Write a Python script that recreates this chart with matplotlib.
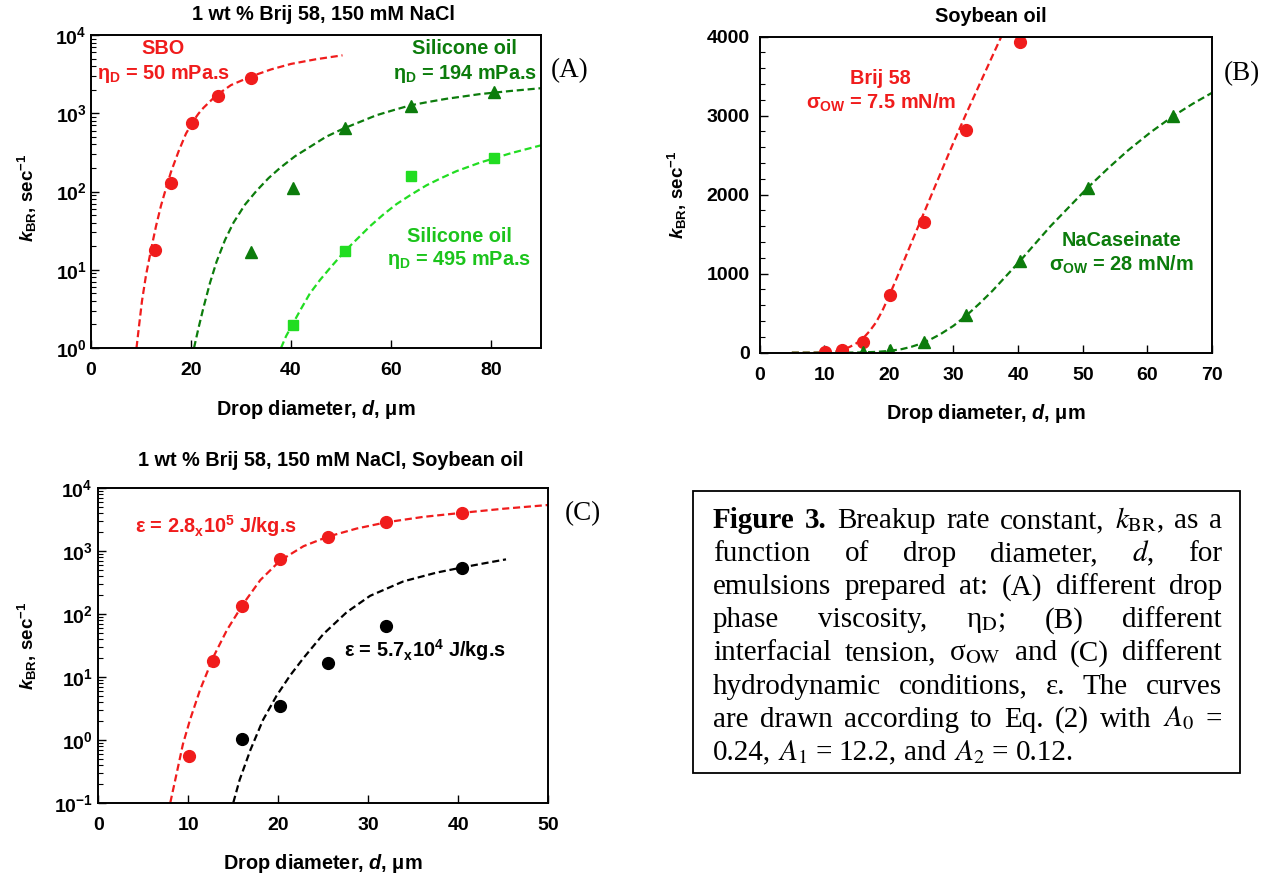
import matplotlib
matplotlib.use("Agg")
import matplotlib.pyplot as plt
from matplotlib.ticker import FixedLocator, NullLocator, MultipleLocator, LogLocator, NullFormatter
from matplotlib.patches import Rectangle

plt.rcParams['font.family'] = ['Liberation Sans', 'DejaVu Sans']
plt.rcParams['mathtext.fontset'] = 'custom'
plt.rcParams['mathtext.rm'] = 'Liberation Sans:bold'
plt.rcParams['mathtext.bf'] = 'Liberation Sans:bold'
plt.rcParams['mathtext.it'] = 'Liberation Sans:bold:italic'

RED = '#f01c1c'
DKGREEN = '#0c7c0c'
LTGREEN = '#22dd22'
LTGREEN_TXT = '#1cc41c'

# ---------------- data ----------------
# panel A: 1 wt % Brij 58, 150 mM NaCl
a_sbo_d = [12.7, 16.0, 20.2, 25.4, 32.0]
a_sbo_k = [18, 130, 740, 1650, 2850]
a_sbo_fit_d = [9.1, 9.6, 10.2, 11.0, 12.0, 13.0, 14.0, 15.0, 16.0, 17.5, 19.0, 20.5, 21.5, 22.5, 25.0, 28.0, 32.0, 36.0, 40.0, 45.0, 50.3]
a_sbo_fit_k = [1, 1.9, 4, 8.5, 18, 36, 66, 110, 178, 324, 550, 804, 989, 1175, 1680, 2290, 2950, 3630, 4270, 4900, 5500]

a_s194_d = [32.0, 40.3, 50.8, 64.0, 80.6]
a_s194_k = [17, 110, 650, 1220, 1850]
a_s194_fit_d = [20.6, 21.5, 22.5, 23.8, 25.1, 26.8, 28.5, 30.8, 33.1, 35.5, 37.8, 40.8, 43.8, 47.0, 50.5, 54.0, 57.1,
                60.5, 63.8, 67.5, 71.1, 74.5, 77.8, 84.0, 90.0]
a_s194_fit_k = [1, 1.8, 3.3, 6.8, 12.6, 24, 40, 68, 102, 148, 200, 282, 372, 500, 638, 785, 944,
                1096, 1259, 1396, 1531, 1641, 1758, 1928, 2089]

a_s495_d = [40.3, 50.8, 64.0, 80.6]
a_s495_k = [1.95, 17.5, 158, 265]
a_s495_fit_d = [38.0, 39.0, 40.1, 42.0, 43.8, 45.8, 47.8, 50.8, 53.3, 55.8, 58.5, 61.1, 64.0, 67.1, 70.0, 73.1, 77.8, 84.0, 90.0]
a_s495_fit_k = [1, 1.41, 1.9, 3.16, 5.0, 7.4, 10.5, 17.4, 25, 36, 51, 69, 91, 120, 148, 182, 234, 309, 389]

# panel B: Soybean oil
b_brij_d = [10.1, 12.7, 16.0, 20.2, 25.4, 32.0, 40.3]
b_brij_k = [5, 30, 135, 735, 1650, 2820, 3935]
b_brij_fit_d = [5, 8, 10, 12, 13, 14, 15, 16, 17, 18, 19, 20, 21, 22, 24, 26, 28, 30, 32, 34, 36, 37.4]
b_brij_fit_k = [0, 0, 3, 18, 40, 75, 120, 180, 270, 380, 530, 710, 900, 1095, 1490, 1880, 2270, 2660, 3030, 3390, 3750, 4000]

b_cas_d = [16.0, 20.2, 25.4, 32.0, 40.3, 50.8, 64.0]
b_cas_k = [8, 32, 131, 478, 1161, 2091, 2990]
b_cas_fit_d = [5, 10, 15, 18, 20, 22, 23.5, 25, 26.5, 28, 30, 32, 34, 36, 40.3, 45, 50.8, 54, 57, 60.5, 63.9, 67, 70]
b_cas_fit_k = [0, 0, 2, 10, 22, 45, 75, 115, 170, 235, 340, 470, 620, 780, 1161, 1600, 2091, 2340, 2560, 2790, 2990, 3150, 3290]

# panel C: 1 wt % Brij 58, 150 mM NaCl, Soybean oil
c_hi_d = [10.1, 12.7, 16.0, 20.2, 25.5, 32.0, 40.4]
c_hi_k = [0.55, 18, 134, 741, 1700, 2870, 4030]
c_hi_fit_d = [8.0, 8.7, 9.4, 10.2, 11.3, 12.8, 14.3, 16.1, 18.0, 20.2, 22.8, 25.5, 28.7, 32.0, 36.1, 40.4, 45.0, 50.0]
c_hi_fit_k = [0.1, 0.29, 0.85, 2.1, 6.2, 21, 56, 145, 347, 708, 1200, 1700, 2290, 2880, 3510, 4070, 4730, 5430]

c_lo_d = [16.0, 20.2, 25.5, 32.0, 40.4]
c_lo_k = [1.02, 3.4, 16.8, 65, 533]
c_lo_fit_d = [15.0, 15.7, 16.9, 18.3, 19.8, 21.3, 22.8, 25.0, 27.6, 30.2, 33.9, 37.6, 40.4, 43.0, 45.3]
c_lo_fit_k = [0.1, 0.23, 0.69, 2.07, 5.0, 10.5, 20, 48, 107, 195, 331, 457, 550, 646, 741]

a_xticks = [0, 20, 40, 60, 80]
b_xticks = [0, 10, 20, 30, 40, 50, 60, 70]
c_xticks = [0, 10, 20, 30, 40, 50]
a_yticks = [1, 10, 100, 1000, 10000]
a_yticklabels = [r'$10^{0}$', r'$10^{1}$', r'$10^{2}$', r'$10^{3}$', r'$10^{4}$']
b_yticks = [0, 1000, 2000, 3000, 4000]
c_yticks = [0.1, 1, 10, 100, 1000, 10000]
c_yticklabels = [r'$10^{\mathrm{-1}}$', r'$10^{0}$', r'$10^{1}$', r'$10^{2}$', r'$10^{3}$', r'$10^{4}$']

caption_lines = [
    [('Figure', 'bold'), ('3.', 'bold'), ('Breakup', 'normal'), ('rate', 'normal'), ('constant,', 'normal'),
     (r'$k_{\rm BR}$,', 'normal'), ('as', 'normal'), ('a', 'normal')],
    [('function', 'normal'), ('of', 'normal'), ('drop', 'normal'), ('diameter,', 'normal'), (r'$d$,', 'normal'), ('for', 'normal')],
    [('emulsions', 'normal'), ('prepared', 'normal'), ('at:', 'normal'), ('(A)', 'normal'), ('different', 'normal'), ('drop', 'normal')],
    [('phase', 'normal'), ('viscosity,', 'normal'), (r'η$_{\rm D}$;', 'normal'), ('(B)', 'normal'), ('different', 'normal')],
    [('interfacial', 'normal'), ('tension,', 'normal'), (r'σ$_{\rm OW}$', 'normal'), ('and', 'normal'), ('(C)', 'normal'), ('different', 'normal')],
    [('hydrodynamic', 'normal'), ('conditions,', 'normal'), ('ε.', 'normal'), ('The', 'normal'), ('curves', 'normal')],
    [('are', 'normal'), ('drawn', 'normal'), ('according', 'normal'), ('to', 'normal'), ('Eq.', 'normal'), ('(2)', 'normal'),
     ('with', 'normal'), (r'$A_0$', 'normal'), ('=', 'normal')],
    [('0.24,', 'normal'), (r'$A_1$', 'normal'), ('=', 'normal'), ('12.2,', 'normal'), ('and', 'normal'), (r'$A_2$', 'normal'),
     ('=', 'normal'), ('0.12.', 'normal')],
]

W, H = 1278, 877
fig = plt.figure(figsize=(W / 100, H / 100), dpi=100)


def px_axes(x0, y0, x1, y1):
    return fig.add_axes([x0 / W, 1 - y1 / H, (x1 - x0) / W, (y1 - y0) / H])


dash = (0, (3.2, 1.7))
TICK_FS = 14
LAB_FS = 14.3
YLAB_FS = 13.5
ANN_FS = 14.3
TITLE_FS = 14.3


def style(ax, ypad, xpad):
    for s in ax.spines.values():
        s.set_linewidth(1.4)
    ax.tick_params(which='both', direction='in', top=False, right=False, labelsize=TICK_FS)
    ax.tick_params(axis='y', which='major', length=6, width=1, pad=ypad)
    ax.tick_params(axis='y', which='minor', length=3.5, width=0.8)
    ax.tick_params(axis='x', which='major', length=6, width=1, pad=xpad)
    ax.xaxis.set_minor_locator(NullLocator())
    for lab in ax.get_xticklabels() + ax.get_yticklabels():
        lab.set_fontweight('bold')


def ylab(ax, xfrac, yfrac=0.5):
    ax.set_ylabel(r'$k_{\mathrm{BR}}$, sec$^{\mathrm{-1}}$', fontsize=YLAB_FS, fontweight='bold')
    ax.yaxis.set_label_coords(xfrac, yfrac)


def xlab(ax, yfrac):
    ax.set_xlabel(r'Drop diameter, $d$, μm', fontsize=LAB_FS, fontweight='bold')
    ax.xaxis.set_label_coords(0.5, yfrac)


def note(ax, x, y, s, color, ha='center'):
    ax.text(x, y, s, transform=ax.transAxes, ha=ha, va='center', color=color, fontsize=ANN_FS, fontweight='bold')


# ---------------- panel A ----------------
axA = px_axes(91, 35, 541, 348)
axA.set_yscale('log')
axA.plot(a_sbo_fit_d, a_sbo_fit_k, ls=dash, color=RED, lw=1.6)
axA.plot(a_s194_fit_d, a_s194_fit_k, ls=dash, color=DKGREEN, lw=1.6)
axA.plot(a_s495_fit_d, a_s495_fit_k, ls=dash, color=LTGREEN, lw=1.6)
axA.plot(a_sbo_d, a_sbo_k, 'o', color=RED, ms=8.5)
axA.plot(a_s194_d, a_s194_k, '^', color=DKGREEN, ms=8.5)
axA.plot(a_s495_d, a_s495_k, 's', color=LTGREEN, ms=7.5)
axA.set_xlim(0, 90)
axA.set_ylim(1, 1e4)
axA.xaxis.set_major_locator(FixedLocator(a_xticks))
axA.yaxis.set_major_locator(FixedLocator(a_yticks))
axA.set_yticklabels(a_yticklabels)
axA.yaxis.set_minor_locator(LogLocator(base=10, subs=range(2, 10)))
axA.yaxis.set_minor_formatter(NullFormatter())
style(axA, 3, 10)
ylab(axA, -0.115, 0.48)
xlab(axA, -0.16)
axA.text(0.516, 1.064, '1 wt % Brij 58, 150 mM NaCl', transform=axA.transAxes, ha='center', va='center',
         fontsize=TITLE_FS, fontweight='bold')
note(axA, 0.16, 0.958, 'SBO', RED)
note(axA, 0.16, 0.876, r'η$_{\rm D}$ = 50 mPa.s', RED)
note(axA, 0.829, 0.958, 'Silicone oil', DKGREEN)
note(axA, 0.831, 0.876, r'η$_{\rm D}$ = 194 mPa.s', DKGREEN)
note(axA, 0.818, 0.355, 'Silicone oil', LTGREEN_TXT)
note(axA, 0.818, 0.281, r'η$_{\rm D}$ = 495 mPa.s', LTGREEN_TXT)
fig.text(570 / W, 1 - 71 / H, '(A)', family='Liberation Serif', fontsize=19.5, ha='center', va='center')

# ---------------- panel B ----------------
axB = px_axes(759.5, 36.7, 1212, 352.7)
axB.plot(b_brij_fit_d, b_brij_fit_k, ls=dash, color=RED, lw=1.6)
axB.plot(b_cas_fit_d, b_cas_fit_k, ls=dash, color=DKGREEN, lw=1.6)
axB.plot(b_brij_d, b_brij_k, 'o', color=RED, ms=8.5)
axB.plot(b_cas_d, b_cas_k, '^', color=DKGREEN, ms=8.5)
axB.set_xlim(0, 70)
axB.set_ylim(0, 4000)
axB.xaxis.set_major_locator(FixedLocator(b_xticks))
axB.yaxis.set_major_locator(FixedLocator(b_yticks))
axB.yaxis.set_minor_locator(MultipleLocator(200))
style(axB, 7, 10)
ylab(axB, -0.156)
xlab(axB, -0.155)
axB.text(0.512, 1.0655, 'Soybean oil', transform=axB.transAxes, ha='center', va='center', fontsize=TITLE_FS, fontweight='bold')
note(axB, 0.268, 0.868, 'Brij 58', RED)
note(axB, 0.268, 0.790, r'σ$_{\rm OW}$ = 7.5 mN/m', RED)
note(axB, 0.800, 0.355, 'NaCaseinate', DKGREEN)
note(axB, 0.800, 0.277, r'σ$_{\rm OW}$ = 28 mN/m', DKGREEN)
fig.text(1242 / W, 1 - 74 / H, '(B)', family='Liberation Serif', fontsize=19.5, ha='center', va='center')

# ---------------- panel C ----------------
axC = px_axes(98.3, 488.3, 548.3, 802.7)
axC.set_yscale('log')
axC.plot(c_hi_fit_d, c_hi_fit_k, ls=dash, color=RED, lw=1.6)
axC.plot(c_lo_fit_d, c_lo_fit_k, ls=dash, color='black', lw=1.6)
axC.plot(c_hi_d, c_hi_k, 'o', color=RED, ms=8.5)
axC.plot(c_lo_d, c_lo_k, 'o', color='black', ms=8.5)
axC.set_xlim(0, 50)
axC.set_ylim(0.1, 1e4)
axC.xaxis.set_major_locator(FixedLocator(c_xticks))
axC.yaxis.set_major_locator(FixedLocator(c_yticks))
axC.set_yticklabels(c_yticklabels)
axC.yaxis.set_minor_locator(LogLocator(base=10, subs=range(2, 10)))
axC.yaxis.set_minor_formatter(NullFormatter())
style(axC, 4, 10)
ylab(axC, -0.132)
xlab(axC, -0.157)
axC.text(0.517, 1.09, '1 wt % Brij 58, 150 mM NaCl, Soybean oil', transform=axC.transAxes, ha='center', va='center',
         fontsize=TITLE_FS, fontweight='bold')
note(axC, 0.081, 0.881, r'ε = 2.8$_{\rm x}$10$^{\rm 5}$ J/kg.s', RED, ha='left')
note(axC, 0.545, 0.487, r'ε = 5.7$_{\rm x}$10$^{\rm 4}$ J/kg.s', 'black', ha='left')
fig.text(583 / W, 1 - 514 / H, '(C)', family='Liberation Serif', fontsize=19.5, ha='center', va='center')

# ---------------- caption box ----------------
fig.add_artist(Rectangle((693 / W, 1 - 773 / H), (1240 - 693) / W, (773 - 491) / H, transform=fig.transFigure,
                         fill=False, lw=1.3, ec='black'))
CAP_FS = 21
x_left, x_right = 713, 1222
renderer = fig.canvas.get_renderer()
for i, words in enumerate(caption_lines):
    y = 520 + 33.1 * i
    texts = []
    for w, wt in words:
        t = fig.text(0, 1 - y / H, w, family='Liberation Serif', fontweight=wt, fontsize=CAP_FS,
                     ha='left', va='baseline', math_fontfamily='stix')
        texts.append(t)
    widths = [t.get_window_extent(renderer).width for t in texts]
    if i == len(caption_lines) - 1:
        gap = 0.25 * CAP_FS * 100 / 72
    else:
        gap = (x_right - x_left - sum(widths)) / (len(texts) - 1)
    x = x_left
    for t, w in zip(texts, widths):
        t.set_x(x / W)
        t.set_y(1 - (y + 8) / H)
        x += w + gap

fig.savefig('out.png', dpi=100)
